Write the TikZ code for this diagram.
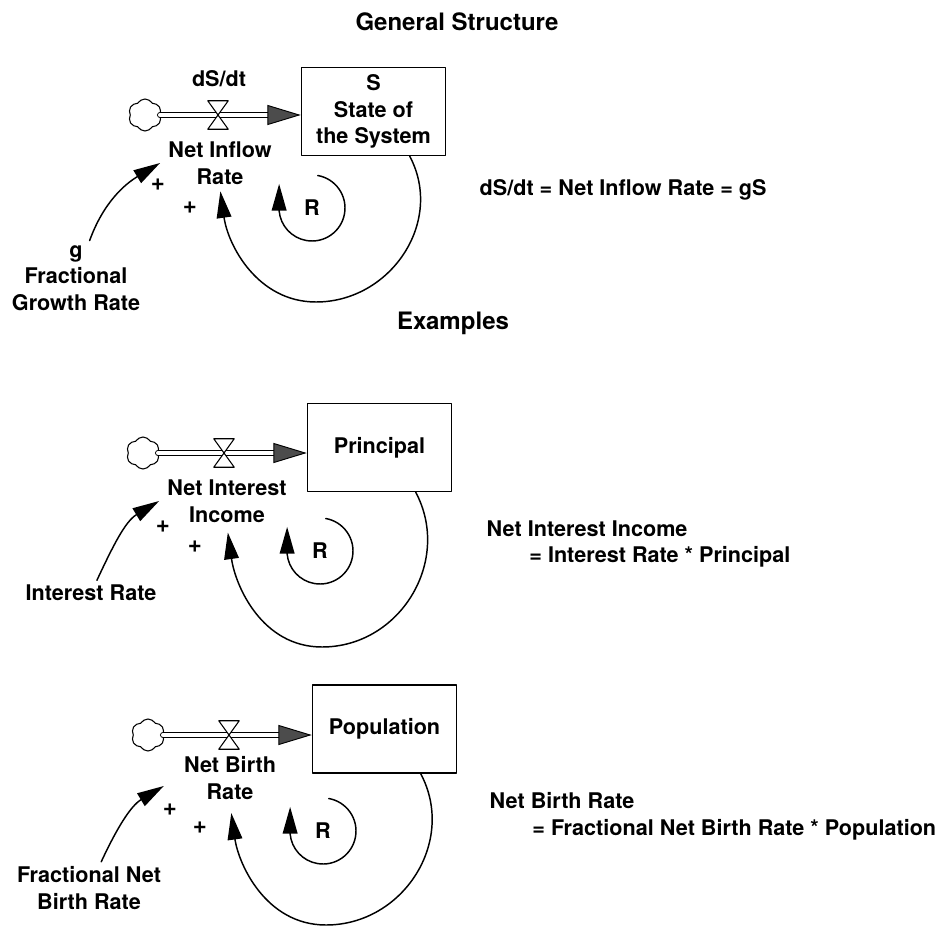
\documentclass[tikz,border=0pt]{standalone}
\usepackage{fontspec}
\setmainfont{TeX Gyre Heros}
\usetikzlibrary{arrows.meta,shapes.symbols}

\begin{document}
\begin{tikzpicture}[x=0.75pt, y=0.75pt, line cap=round, line join=round,
		font=\fontsize{16.2}{20}\selectfont\bfseries,
		heading/.style={font=\fontsize{18}{21}\selectfont\bfseries},
		plussign/.style={font=\fontsize{18}{21}\selectfont\bfseries},
		stockbox/.style={draw, line width=1.1pt, minimum width=108pt, minimum height=66pt, align=center, inner sep=2pt},
		cloudnode/.style={cloud, draw, cloud puffs=6, cloud puff arc=120, aspect=1, minimum width=25pt, minimum height=24pt, inner sep=0pt, line width=0.8pt},
		valvenode/.style={minimum width=15pt, minimum height=21pt, inner sep=0pt},
		ratelabel/.style={align=center, inner xsep=6pt, inner ysep=3pt},
		pipe/.style={double, double distance=3.6pt, line width=0.7pt, -{Triangle[length=25pt, width=15pt, fill=black!70]}},
		link/.style={line width=1.1pt, -{Triangle[length=20pt, width=11pt]}},
		eqtext/.style={anchor=west, align=left}]
	
	% Page window (pixels of the original, y going down)
	\useasboundingbox (0,0) rectangle (942,-927);
	
	% General structure
	\node[heading] (title1) at (457,-22) {General Structure};
	\node[cloudnode] (cloud1) at (145,-115) {};
	\node[valvenode] (valve1) at (218,-115) {};
	\node[stockbox] (stock1) at (373.5,-111.5) {S\\State of\\the System};
	\node (flow1) at (219,-79) {dS/dt};
	\node[ratelabel] (rate1) at (220,-163) {Net Inflow\\Rate};
	\node[align=center] (param1) at (76,-278) {g\\Fractional\\Growth Rate};
	\node (R1) at (312,-208) {R};
	\node[plussign] (plusA1) at (158,-185) {+};
	\node[plussign] (plusB1) at (190,-208) {+};
	\coordinate (bot1) at (316,-302);
	\node[eqtext] (eq1) at (475,-190) {dS/dt = Net Inflow Rate = gS};
	
	\draw[pipe] (cloud1.east) -- (cloud1.east -| stock1.west);
	\draw[link] (param1) to[out=70, in=211] (rate1.west);
	\draw[link, shorten >=2pt] (stock1.-51) to[out=-62, in=0, looseness=1.1] (bot1) to[out=180, in=-82] (rate1.south);
	
	% Examples
	\node[heading] (title2) at (453,-323) {Examples};
	
	% Principal
	\node[cloudnode] (cloud2) at (143,-453) {};
	\node[valvenode] (valve2) at (224,-453) {};
	\node[stockbox] (stock2) at (379.5,-447.5) {Principal};
	\node[ratelabel] (rate2) at (227,-501) {Net Interest\\Income};
	\node (param2) at (91,-593) {Interest Rate};
	\node (R2) at (320,-551) {R};
	\node[plussign] (plusA2) at (163,-527) {+};
	\node[plussign] (plusB2) at (195,-547) {+};
	\coordinate (bot2) at (322,-647);
	\node[eqtext] (eq2) at (482,-544) {Net Interest Income\\\hspace*{32pt}= Interest Rate * Principal};
	
	\draw[pipe] (cloud2.east) -- (cloud2.east -| stock2.west);
	\draw[link] (param2) to[out=65, in=211] (rate2.west);
	\draw[link, shorten >=4.5pt] (stock2.-51) to[out=-62, in=0, looseness=1.1] (bot2) to[out=180, in=-82] (rate2.south);
	
	% Population
	\node[cloudnode] (cloud3) at (148,-735) {};
	\node[valvenode] (valve3) at (229,-735) {};
	\node[stockbox] (stock3) at (384.5,-729) {Population};
	\node[ratelabel] (rate3) at (230,-778) {Net Birth\\Rate};
	\node[align=center] (param3) at (89,-888) {Fractional Net\\Birth Rate};
	\node (R3) at (323,-831) {R};
	\node[plussign] (plusA3) at (170,-810) {+};
	\node[plussign] (plusB3) at (200,-828) {+};
	\coordinate (bot3) at (326,-925);
	\node[eqtext] (eq3) at (485,-816.5) {Net Birth Rate\\\hspace*{32pt}= Fractional Net Birth Rate * Population};
	
	\draw[pipe] (cloud3.east) -- (cloud3.east -| stock3.west);
	\draw[link] (param3) to[out=65, in=211] ([shift={(-9pt,-6pt)}]rate3.west);
	\draw[link, shorten >=7pt] (stock3.-51) to[out=-62, in=0, looseness=1.1] (bot3) to[out=180, in=-82] (rate3.south);
	
	% Valves sit on the pipes
	\foreach \v in {valve1,valve2,valve3} {
		\draw[fill=white, line width=0.8pt] (\v.north west) -- (\v.north east) -- (\v.south west) -- (\v.south east) -- cycle;
	}
	
	% Small reinforcing loops
	\foreach \r in {R1,R2,R3} {
		\draw[link] (\r.center) ++(80:33) arc[start angle=80, end angle=-175, radius=33] -- ++(0,27);
	}
	
\end{tikzpicture}
\end{document}
